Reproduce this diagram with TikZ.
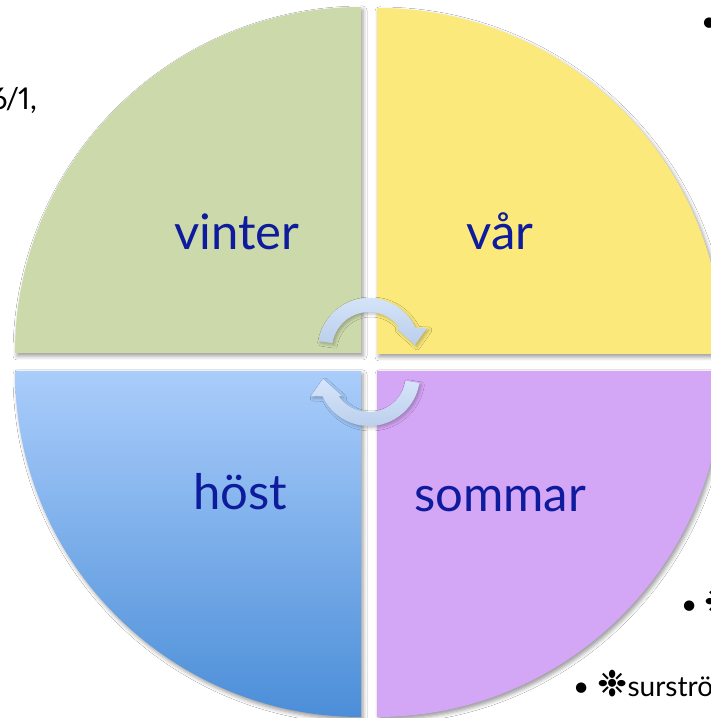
\documentclass[tikz,border=0pt]{standalone}
\usepackage{fontspec}
\setmainfont{Lato}
\newfontfamily\symfont{DejaVu Sans}
\usetikzlibrary{shadows.blur}
\definecolor{qgreen}{HTML}{CCDAAB}
\definecolor{qyellow}{HTML}{FCE97C}
\definecolor{qpurple}{HTML}{D4A6F6}
\definecolor{qbluetop}{HTML}{AACDFB}
\definecolor{qbluebot}{HTML}{4B8ED8}
\definecolor{labelblue}{HTML}{0D1B9C}
\definecolor{arrowtop}{HTML}{D6E5FA}
\definecolor{arrowbot}{HTML}{BACEEB}
\begin{document}
\begin{tikzpicture}[x=1pt,y=1pt,
  quad/.style={blur shadow={shadow xshift=2pt,shadow yshift=-3pt,shadow blur radius=4pt,shadow opacity=40}},
  season/.style={text=labelblue,font=\fontsize{49}{54}\selectfont,anchor=base,inner sep=0pt},
  bullettext/.style={text=black,font=\fontsize{28}{32}\selectfont,anchor=base west,inner sep=0pt},
  cyclearrow/.style={top color=arrowtop,bottom color=arrowbot,blur shadow={shadow xshift=2pt,shadow yshift=-2pt,shadow blur radius=3pt,shadow opacity=25}}]
\useasboundingbox (0,0) rectangle (711,718);
\clip (0,0) rectangle (711,718);
\fill[white] (0,0) rectangle (711,718);
% quadrants
\path[quad,fill=qgreen] (361,365) -- (15,365) arc[start angle=180,end angle=90,radius=346pt] -- cycle;
\path[quad,fill=qyellow] (377,364) -- (377,710) arc[start angle=90,end angle=0,radius=346pt] -- cycle;
\path[quad,top color=qbluetop,bottom color=qbluebot] (361,347) -- (361,1) arc[start angle=270,end angle=180,radius=346pt] -- cycle;
\path[quad,fill=qpurple] (377,347) -- (723,347) arc[start angle=0,end angle=-90,radius=346pt] -- cycle;
% labels
\node[season] (vinter) at (237,468) {vinter};
\node[season] (var) at (500,468) {vår};
\node[season] (host) at (240,208) {höst};
\node[season] (sommar) at (500,206) {sommar};
% cycle arrows
\begin{scope}[shift={(369,369)}]
\path[cyclearrow] (171:51pt) arc[start angle=171,end angle=24.8,radius=51pt] -- (58,21) -- (46,4) -- (27,21) -- (34.6:37pt) arc[start angle=34.6,end angle=171,radius=37pt] -- cycle;
\end{scope}
\begin{scope}[shift={(369,343)}]
\path[cyclearrow] (351:51pt) arc[start angle=351,end angle=204.8,radius=51pt] -- (-58,-21) -- (-46,-4) -- (-27,-21) -- (214.6:37pt) arc[start angle=214.6,end angle=351,radius=37pt] -- cycle;
\end{scope}
% partial side texts
\node[anchor=base east,inner sep=0pt,font=\fontsize{30}{36}\selectfont\addfontfeatures{Numbers=Proportional}] (date) at (37,608) {6\kern-2pt/\kern-1pt1,};
\node[bullettext] (b1) at (701,686) {•};
\node[bullettext] (b2) at (681,103) {•\hspace{7pt}{\symfont\fontsize{36}{38}\selectfont ❉}};
\node[bullettext] (b3) at (573,21) {•\hspace{8pt}{\symfont\fontsize{36}{38}\selectfont ❉}surströ};
\end{tikzpicture}
\end{document}
